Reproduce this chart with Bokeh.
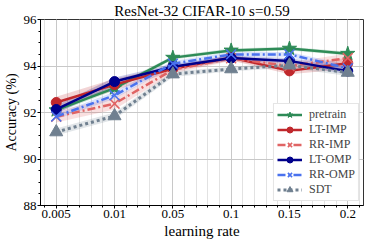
from bokeh.plotting import figure
from bokeh.models import (Range1d, FixedTicker, Legend, LegendItem)
from bokeh.embed import file_html
from bokeh.resources import INLINE

# ---- data ----
lr_labels = ["0.005", "0.01", "0.05", "0.1", "0.15", "0.2"]
pretrain = [92.10, 93.05, 94.36, 94.67, 94.75, 94.53]
lt_imp = [92.43, 93.20, 93.88, 94.36, 93.79, 94.12]
rr_imp = [91.82, 92.38, 93.84, 94.33, 94.00, 94.34]
lt_omp = [92.13, 93.33, 93.97, 94.34, 94.22, 93.78]
rr_omp = [91.83, 92.74, 94.10, 94.50, 94.50, 93.90]
sdt = [91.16, 91.85, 93.65, 93.87, 94.03, 93.72]

pretrain_std = [0.10, 0.10, 0.08, 0.08, 0.08, 0.08]
lt_imp_std = [0.25, 0.25, 0.12, 0.12, 0.15, 0.25]
rr_imp_std = [0.25, 0.25, 0.15, 0.12, 0.15, 0.20]
lt_omp_std = [0.18, 0.18, 0.12, 0.10, 0.12, 0.15]
rr_omp_std = [0.12, 0.15, 0.12, 0.10, 0.10, 0.15]
sdt_std = [0.15, 0.15, 0.12, 0.10, 0.12, 0.15]

y_ticks = [88, 90, 92, 94, 96]

FONT = "'Liberation Serif', 'DejaVu Serif', serif"

xs = list(range(len(lr_labels)))

p = figure(width=366, height=241, output_backend="svg", toolbar_location=None,
           x_range=Range1d(-0.27, 5.27), y_range=Range1d(88, 96),
           min_border_left=33, min_border_right=3, min_border_top=0,
           min_border_bottom=36)
p.background_fill_color = "white"
p.outline_line_color = "#333333"
p.outline_line_width = 1

p.title.text = "ResNet-32 CIFAR-10 s=0.59"
p.title.align = "center"
p.title.text_font = FONT
p.title.text_font_size = "15px"
p.title.text_font_style = "normal"
p.title.text_color = "black"
p.title.standoff = 1
p.title.offset = 0

# axes
p.xaxis.ticker = FixedTicker(ticks=xs, minor_ticks=[i * 0.2 - 0.2 for i in range(28)])
p.xaxis.major_label_overrides = {i: lab for i, lab in enumerate(lr_labels)}
p.yaxis.ticker = FixedTicker(ticks=y_ticks, minor_ticks=[88 + 0.5 * i for i in range(17)])
for ax in (p.xaxis[0], p.yaxis[0]):
    ax.major_label_text_font = FONT
    ax.major_label_text_font_size = "13px"
    ax.major_label_text_color = "black"
    ax.axis_label_text_font = FONT
    ax.axis_label_text_font_style = "normal"
    ax.axis_label_text_color = "black"
    ax.axis_line_color = "black"
    ax.major_tick_line_color = "black"
    ax.minor_tick_line_color = "black"
    ax.major_tick_out = 3
    ax.major_tick_in = 0
    ax.minor_tick_out = 2
    ax.minor_tick_in = 0
    ax.major_label_standoff = 1
    ax.axis_label_standoff = 2
p.xaxis.axis_label = "learning rate"
p.xaxis.axis_label_text_font_size = "15px"
p.yaxis.axis_label = "Accuracy (%)"
p.yaxis.axis_label_text_font_size = "14px"

p.xgrid.ticker = p.xaxis.ticker
p.xgrid.grid_line_color = "#c8c8c8"
p.xgrid.minor_grid_line_color = "#e2e2e2"
p.ygrid.ticker = p.yaxis.ticker
p.ygrid.grid_line_color = "#c8c8c8"

series = [
    ("pretrain", pretrain, pretrain_std, "#2e8b57", "star", "solid", 15, 2.5),
    ("LT-IMP", lt_imp, lt_imp_std, "#c0282c", "circle", "solid", 10, 2.5),
    ("RR-IMP", rr_imp, rr_imp_std, "#e06464", "x", "8 3 2 3", 14, 2.5),
    ("LT-OMP", lt_omp, lt_omp_std, "#00008b", "circle", "solid", 10, 2.5),
    ("RR-OMP", rr_omp, rr_omp_std, "#4a72ee", "x", "8 3 2 3", 14, 2.5),
    ("SDT", sdt, sdt_std, "#708090", "triangle", "3 3", 13, 3),
]

items = []
for name, ys, sd, col, mk, dash, sz, lw in series:
    lo = [y - s for y, s in zip(ys, sd)]
    hi = [y + s for y, s in zip(ys, sd)]
    p.varea(x=xs, y1=lo, y2=hi, fill_color=col, fill_alpha=0.2)
for name, ys, sd, col, mk, dash, sz, lw in series:
    r1 = p.line(xs, ys, line_color=col, line_width=lw, line_dash=dash)
    if mk == "x":
        r2 = p.scatter(xs, ys, marker=mk, size=sz, line_color=col, line_width=1.5)
    else:
        r2 = p.scatter(xs, ys, marker=mk, size=sz, fill_color=col, line_color=col)
    items.append(LegendItem(label=name, renderers=[r1, r2]))

legend = Legend(items=items, location="bottom_right", margin=4, padding=3,
                spacing=0, label_height=15, glyph_height=15, glyph_width=25,
                label_standoff=7, label_text_font=FONT, label_text_font_size="12px",
                border_line_color="#cccccc", border_line_width=1,
                background_fill_alpha=1.0)
p.add_layout(legend)

open("out.html", "w").write(file_html(p, INLINE))
